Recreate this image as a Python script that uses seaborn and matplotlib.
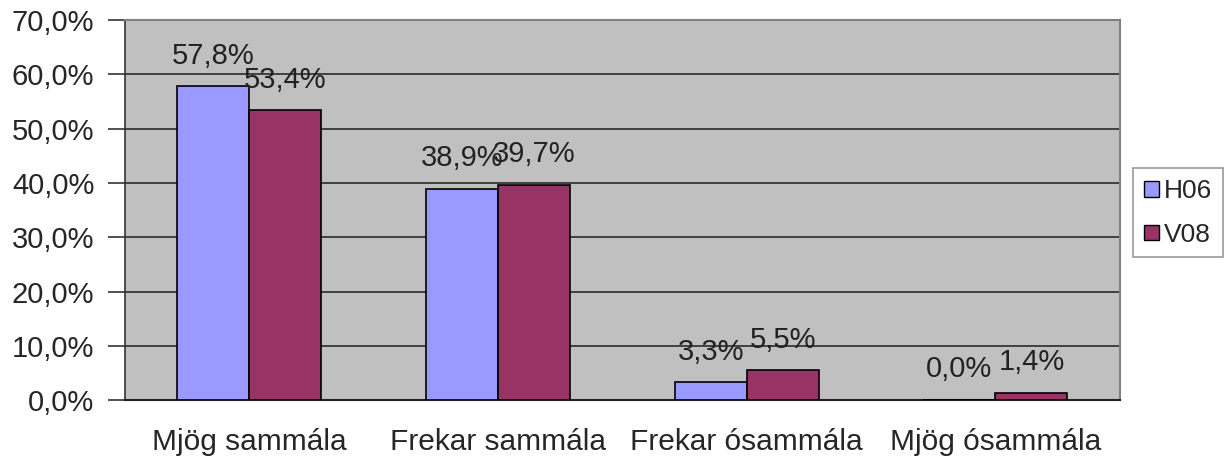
import pandas as pd
import seaborn as sns
import matplotlib.pyplot as plt

categories = ["Mjög sammála", "Frekar sammála", "Frekar ósammála", "Mjög ósammála"]
h06 = [57.8, 38.9, 3.3, 0.0]
v08 = [53.4, 39.7, 5.5, 1.4]
series = ["H06", "V08"]

df = pd.DataFrame(
    {
        "category": categories * 2,
        "value": h06 + v08,
        "series": [series[0]] * 4 + [series[1]] * 4,
    }
)

sns.set_style("white")
plt.rcParams["font.family"] = ["Liberation Sans", "DejaVu Sans"]

fig = plt.figure(figsize=(12.28, 4.68), dpi=100)
ax = fig.add_axes([0.1018, 0.145, 0.81, 0.812])

palette = {"H06": "#9999FF", "V08": "#993366"}
sns.barplot(
    data=df,
    x="category",
    y="value",
    hue="series",
    palette=palette,
    width=0.58,
    gap=0,
    edgecolor="black",
    linewidth=1.2,
    saturation=1,
    ax=ax,
    zorder=3,
)

ax.set_facecolor("#C0C0C0")
ax.set_ylim(0, 70)
ax.set_xlim(-0.5, 3.5)
ax.set_yticks(range(0, 71, 10))
ax.set_yticklabels([f"{v},0%" for v in range(0, 71, 10)], fontsize=21)
ax.yaxis.grid(True, color="#2a2a2a", linewidth=1.2, zorder=0)
ax.set_axisbelow(True)

ax.set_xticks(range(4))
ax.set_xticklabels(categories, fontsize=21.5)
ax.set_xticks([-0.5, 0.5, 1.5, 2.5, 3.5], minor=True)
ax.tick_params(axis="x", which="major", length=0, pad=20)
ax.tick_params(axis="x", which="minor", length=10, width=1.2, color="#333333", direction="out")
ax.tick_params(axis="y", length=12, width=1.2, color="#333333", direction="out", pad=10, left=True)
ax.set_xlabel("")
ax.set_ylabel("")

for side in ["top", "right"]:
    ax.spines[side].set_color("#808080")
    ax.spines[side].set_linewidth(1.5)
ax.spines["left"].set_color("#333333")
ax.spines["bottom"].set_color("#222222")
ax.spines["left"].set_linewidth(1.2)
ax.spines["bottom"].set_linewidth(1.5)

# value labels sit above each bar (the two middle ones touch, as in the original)
for cont, vals in zip(ax.containers, [h06, v08]):
    ax.bar_label(
        cont,
        labels=[f"{v:.1f}%".replace(".", ",") for v in vals],
        padding=12,
        fontsize=21,
        color="#222222",
    )

ax.get_legend().remove()
handles = [plt.Rectangle((0, 0), 1, 1, facecolor=palette[s], edgecolor="black") for s in series]
leg = fig.legend(
    handles,
    series,
    loc="center left",
    bbox_to_anchor=(0.923, 0.545),
    fontsize=19,
    frameon=True,
    fancybox=False,
    handlelength=0.55,
    handleheight=0.55,
    handletextpad=0.2,
    borderpad=0.4,
    labelspacing=0.75,
    borderaxespad=0,
)
leg.get_frame().set_edgecolor("#808080")
leg.get_frame().set_linewidth(1.2)

fig.savefig("out.png", dpi=100)
